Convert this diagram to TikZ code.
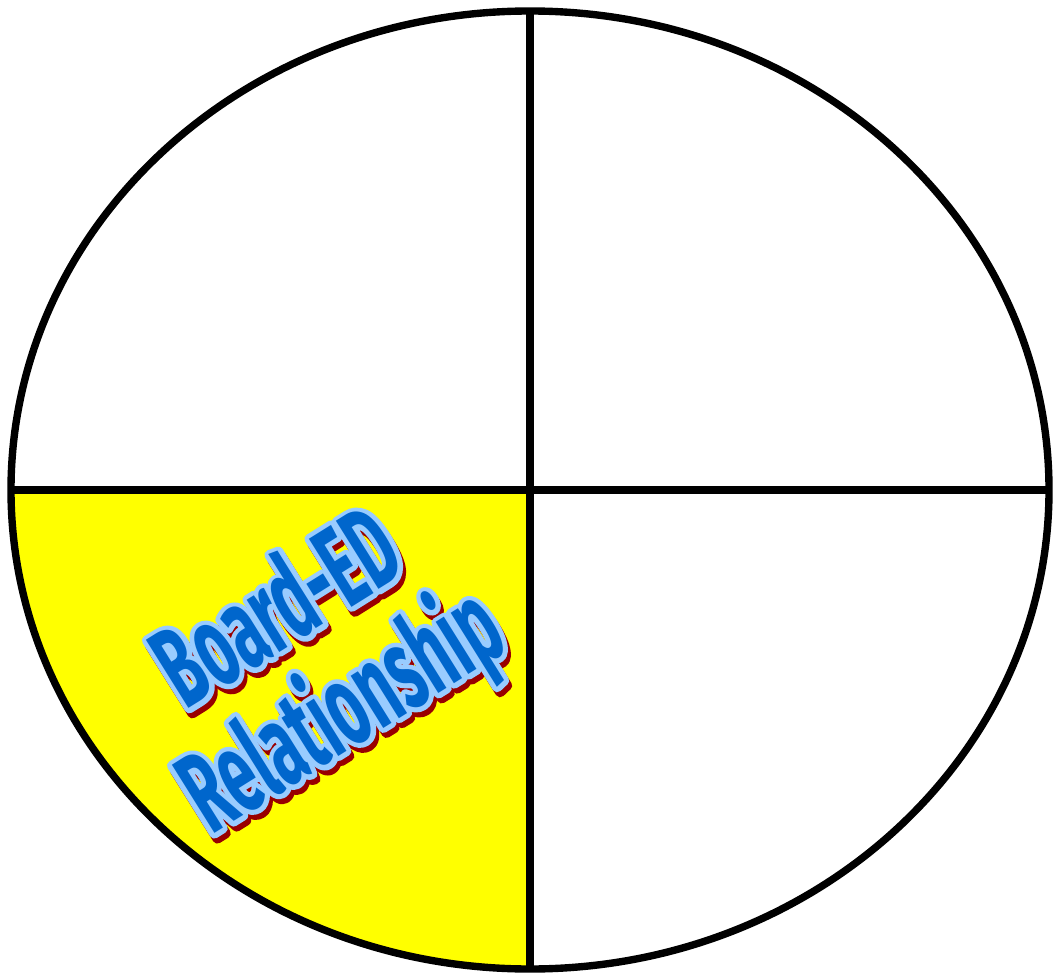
\documentclass[tikz,border=0pt]{standalone}
\usepackage{fontspec}
\usepackage{tikz}
\usetikzlibrary{calc}

\newfontfamily\boardfont[FakeStretch=0.53]{Fira Sans}
\definecolor{quarteryellow}{HTML}{FFFF00}
\definecolor{faceblue}{HTML}{0066CC}
\definecolor{rimblue}{HTML}{99CCFF}
\definecolor{shadowred}{HTML}{990000}
\newcommand{\boardlabel}{Board-ED\\Relationship}
% text drawn filled and stroked, for the rim and the shadow
\newcommand{\thicktext}[1]{\special{pdf:literal direct 2 Tr 5.5 w 1 j}#1\special{pdf:literal direct 0 Tr}}

\begin{document}
\begin{tikzpicture}[x=0.02cm,y=0.02cm,
  rim/.style={line width=4.2pt},
  wordart/.style={rotate=32,align=center,inner sep=0pt,
    font=\boardfont\bfseries\fontsize{66}{68}\selectfont}]

\useasboundingbox (0,0) rectangle (1054,975);

% yellow quadrant
\fill[quarteryellow] (530,485) -- (11,485)
    arc[start angle=180,end angle=270,x radius=519,y radius=479] -- cycle;

% label: shadow, light rim, blue face
\coordinate (mid) at (313,310);

\node[wordart,text=shadowred] (shadow) at ($(mid)+(3,-5)$) {\thicktext{\boardlabel}};

\node[wordart,text=rimblue] (rimtext) at (mid) {\thicktext{\boardlabel}};

\node[wordart,text=faceblue] (label) at (mid) {\boardlabel};

% circle and quarters
\draw[rim] (530,485) ellipse [x radius=519,y radius=479];

\draw[rim] (530,965) -- (530,6);

\draw[rim] (11,485) -- (1049,485);

\end{tikzpicture}
\end{document}
